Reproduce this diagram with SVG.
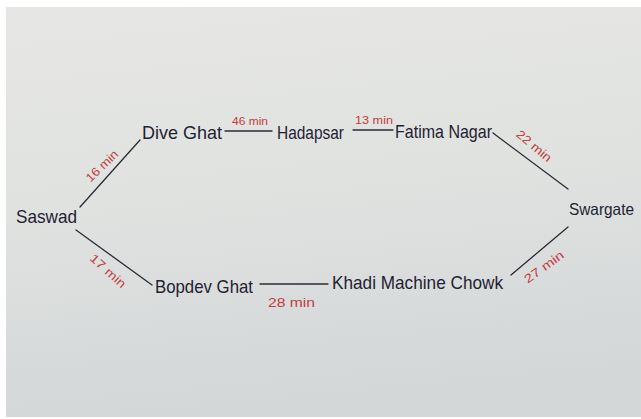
<svg xmlns="http://www.w3.org/2000/svg" width="641" height="419" viewBox="0 0 641 419">
<defs>
<linearGradient id="paper" x1="0" y1="0" x2="0.15" y2="1">
<stop offset="0" stop-color="#e6e7e4"/>
<stop offset="0.5" stop-color="#e0e2e0"/>
<stop offset="1" stop-color="#d3d7d8"/>
</linearGradient>
<style>
.node{font-family:"Liberation Sans","DejaVu Sans",sans-serif;font-size:19px;fill:#1f2233}
.lbl{font-family:"Liberation Sans","DejaVu Sans",sans-serif;font-size:11px;fill:#c43c3c}
.edge{stroke:#2a2c36;stroke-width:1.3;fill:none;stroke-linecap:round}
</style>
</defs>
<rect x="0" y="0" width="641" height="419" fill="#ffffff"/>
<rect x="6" y="7" width="635" height="410" fill="url(#paper)"/>
<g id="connectors">
<line class="edge" x1="80" y1="207" x2="140" y2="140"/>
<line class="edge" x1="225" y1="131" x2="272" y2="131"/>
<line class="edge" x1="353" y1="130" x2="393" y2="130"/>
<line class="edge" x1="493" y1="133" x2="568" y2="189"/>
<line class="edge" x1="568" y1="227" x2="511" y2="275"/>
<line class="edge" x1="260" y1="284" x2="328" y2="284"/>
<line class="edge" x1="76" y1="230" x2="152" y2="285"/>
<text class="lbl" transform="translate(102,166) rotate(-44)" x="0" y="4" text-anchor="middle" textLength="40" lengthAdjust="spacingAndGlyphs" style="font-size:12px">16 min</text>
<text class="lbl" x="232" y="125" textLength="36" lengthAdjust="spacingAndGlyphs">46 min</text>
<text class="lbl" x="355" y="124" textLength="38" lengthAdjust="spacingAndGlyphs">13 min</text>
<text class="lbl" transform="translate(534,146) rotate(40)" x="0" y="4" text-anchor="middle" textLength="42" lengthAdjust="spacingAndGlyphs" style="font-size:12px">22 min</text>
<text class="lbl" transform="translate(544,267) rotate(-36)" x="0" y="4" text-anchor="middle" textLength="46" lengthAdjust="spacingAndGlyphs" style="font-size:12px">27 min</text>
<text class="lbl" x="268" y="307" textLength="47" lengthAdjust="spacingAndGlyphs" style="font-size:13px">28 min</text>
<text class="lbl" transform="translate(108,271) rotate(42)" x="0" y="4" text-anchor="middle" textLength="44" lengthAdjust="spacingAndGlyphs" style="font-size:12px">17 min</text>
</g>
<g id="saswad"><text class="node" x="16" y="223" textLength="61" lengthAdjust="spacingAndGlyphs">Saswad</text></g>
<g id="dive-ghat"><text class="node" x="142" y="139" textLength="80" lengthAdjust="spacingAndGlyphs">Dive Ghat</text></g>
<g id="hadapsar"><text class="node" x="277" y="139" textLength="67" lengthAdjust="spacingAndGlyphs">Hadapsar</text></g>
<g id="fatima-nagar"><text class="node" x="395" y="138" textLength="97" lengthAdjust="spacingAndGlyphs">Fatima Nagar</text></g>
<g id="swargate"><text class="node" x="569" y="215" textLength="65" lengthAdjust="spacingAndGlyphs" style="font-size:16.5px">Swargate</text></g>
<g id="khadi-machine-chowk"><text class="node" x="332" y="289" textLength="171" lengthAdjust="spacingAndGlyphs">Khadi Machine Chowk</text></g>
<g id="bopdev-ghat"><text class="node" x="155" y="293" textLength="98" lengthAdjust="spacingAndGlyphs">Bopdev Ghat</text></g>
</svg>
